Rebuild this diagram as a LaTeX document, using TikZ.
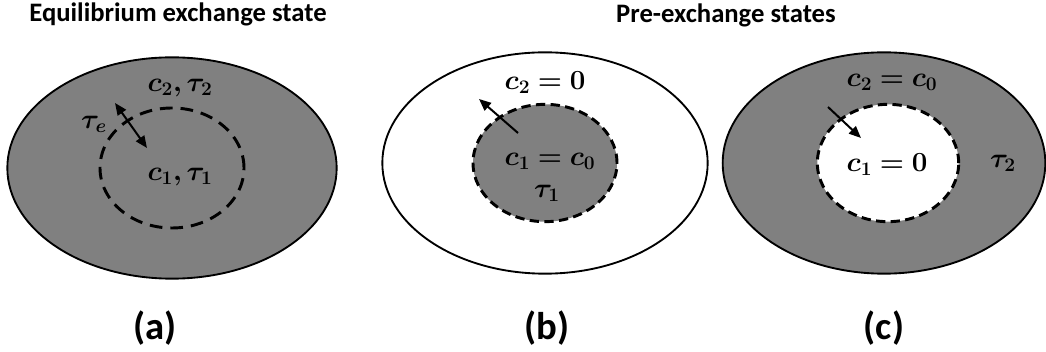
\documentclass[tikz,border=0pt]{standalone}
\usepackage{amsmath}
\usepackage{bm}
\usepackage{fontspec}
\setsansfont{Carlito}
\usepackage{tikz}
\usetikzlibrary{
    positioning,
    arrows.meta,
    shapes.geometric,
}
\definecolor{cellgray}{RGB}{128,128,128}
\tikzset{
    % Region styles
    outer region/.style={ellipse, draw, line width=1.4pt, minimum width=244pt,
                         minimum height=166pt, inner sep=0pt},
    inner region/.style={ellipse, draw, line width=2.2pt, dash pattern=on 7pt off 4pt,
                         minimum width=108pt, minimum height=88pt, inner sep=0pt},
    % Text styles
    quantity/.style={font=\fontsize{22}{26}\selectfont, inner sep=1pt},
    title/.style={font=\sffamily\bfseries\fontsize{20}{24}\selectfont},
    panel label/.style={font=\sffamily\bfseries\fontsize{29}{34}\selectfont},
    % Arrow styles
    flux/.style={-{Triangle[length=9pt, width=7.5pt]}, line width=1.5pt},
}

\begin{document}
\begin{tikzpicture}[x=0.75pt, y=-0.75pt]
    \useasboundingbox (0,0) rectangle (1046,352);

    % Titles
    \node[title] (eqtitle) at (178, 14) {Equilibrium exchange state};
    \node[title] (pretitle) at (726, 15) {Pre-exchange states};

    % Regions
    \node[outer region, fill=cellgray, minimum width=247pt] (outa) at (172, 168) {};
    \node[inner region, minimum height=90pt, dash pattern=on 9.5pt off 6pt] (ina) at (172, 168) {};
    \node[outer region, fill=white] (outb) at (545, 163) {};
    \node[inner region, fill=cellgray] (inb) at (545, 163) {};
    \node[outer region, fill=cellgray, minimum width=242pt] (outc) at (884, 163) {};
    \node[inner region, fill=white, minimum width=106pt] (inc) at (888, 163) {};

    % Quantities
    \node[quantity] (c2a) at (180, 88) {$\bm{c_2, \tau_2}$};
    \node[quantity] (tea) at (94, 124) {$\bm{\tau_e}$};
    \node[quantity] (c1a) at (180, 177) {$\bm{c_1, \tau_1}$};
    \node[quantity] (c2b) at (545, 83) {$\bm{c_2 = 0}$};
    \node[quantity] (c1b) at (550, 161) {$\bm{c_1 = c_0}$};
    \node[quantity] (t1b) at (547, 193) {$\bm{\tau_1}$};
    \node[quantity] (c2c) at (892, 82) {$\bm{c_2 = c_0}$};
    \node[quantity] (c1c) at (887, 165) {$\bm{c_1 = 0}$};
    \node[quantity] (t2c) at (1003, 163) {$\bm{\tau_2}$};

    % Panel labels
    \node[panel label] (laba) at (155, 328) {(a)};
    \node[panel label] (labb) at (547, 328) {(b)};
    \node[panel label] (labc) at (884, 328) {(c)};

    % Arrows
    \coordinate (ea) at (115, 103);
    \coordinate (ia) at (147, 148);
    \coordinate (ib) at (518, 133);
    \coordinate (eb) at (479, 99);
    \coordinate (ec) at (828, 107);
    \coordinate (ic) at (861, 138);
    \draw[flux, {Triangle[length=9pt, width=7.5pt]}-{Triangle[length=9pt, width=7.5pt]}] (ea) -- (ia);
    \draw[flux] (ib) -- (eb);
    \draw[flux] (ec) -- (ic);
\end{tikzpicture}
\end{document}
